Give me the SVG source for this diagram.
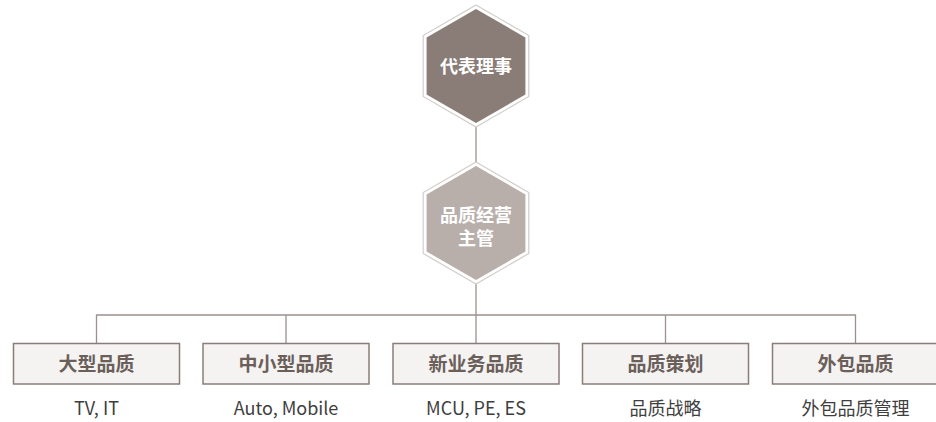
<svg xmlns="http://www.w3.org/2000/svg" width="936" height="422" viewBox="0 0 936 422">
<style>
.outer{fill:none;stroke:#d3cdca;stroke-width:1.2}
.h1{fill:#8a7d78}
.h2{fill:#b8aeaa}
.ht{font-family:"Noto Sans CJK SC","Noto Sans",sans-serif;font-weight:bold;font-size:18px;fill:#ffffff;text-anchor:middle}
.box{fill:#f5f3f2;stroke:#8a7d78;stroke-width:1.5}
.bt{font-family:"Noto Sans CJK SC","Noto Sans",sans-serif;font-weight:bold;font-size:19px;fill:#6b5f5a;text-anchor:middle}
.st{font-family:"Noto Sans CJK SC","Noto Sans",sans-serif;font-size:18px;fill:#3e3e3e;text-anchor:middle}
.ln{fill:none;stroke:#9b908c;stroke-width:1.3}
</style>
<g id="connectors">
<path class="ln" d="M476 127 V162"/>
<path class="ln" d="M476 283 V315"/>
<path class="ln" d="M96.5 343 V315 H855.5 V343"/>
<path class="ln" d="M286 315 V343"/>
<path class="ln" d="M476 315 V343"/>
<path class="ln" d="M665.5 315 V343"/>
</g>
<g id="node-daibiao">
<polygon class="outer" points="476,5 528.8,35.5 528.8,96.5 476,127 423.2,96.5 423.2,35.5"/>
<polygon class="h1" points="476,9 525.4,37.5 525.4,94.5 476,123 426.6,94.5 426.6,37.5"/>
<text class="ht" x="476" y="73">代表理事</text>
</g>
<g id="node-pinzhi">
<polygon class="outer" points="476,162 528.8,192.5 528.8,253.5 476,284 423.2,253.5 423.2,192.5"/>
<polygon class="h2" points="476,166 525.4,194.5 525.4,251.5 476,280 426.6,251.5 426.6,194.5"/>
<text class="ht" x="476" y="222">品质经营</text>
<text class="ht" x="476" y="245">主管</text>
</g>
<g id="node-daxing">
<rect class="box" x="13.5" y="343.5" width="166" height="40.5"/>
<text class="bt" x="96.5" y="371">大型品质</text>
<text class="st" x="96.5" y="415">TV, IT</text>
</g>
<g id="node-zhongxiao">
<rect class="box" x="203" y="343.5" width="166" height="40.5"/>
<text class="bt" x="286" y="371">中小型品质</text>
<text class="st" x="286" y="415">Auto, Mobile</text>
</g>
<g id="node-xinyewu">
<rect class="box" x="393" y="343.5" width="166" height="40.5"/>
<text class="bt" x="476" y="371">新业务品质</text>
<text class="st" x="476" y="415">MCU, PE, ES</text>
</g>
<g id="node-cehua">
<rect class="box" x="582.5" y="343.5" width="166" height="40.5"/>
<text class="bt" x="665.5" y="371">品质策划</text>
<text class="st" x="665.5" y="415">品质战略</text>
</g>
<g id="node-waibao">
<rect class="box" x="772.5" y="343.5" width="166" height="40.5"/>
<text class="bt" x="855.5" y="371">外包品质</text>
<text class="st" x="855.5" y="415">外包品质管理</text>
</g>
</svg>
